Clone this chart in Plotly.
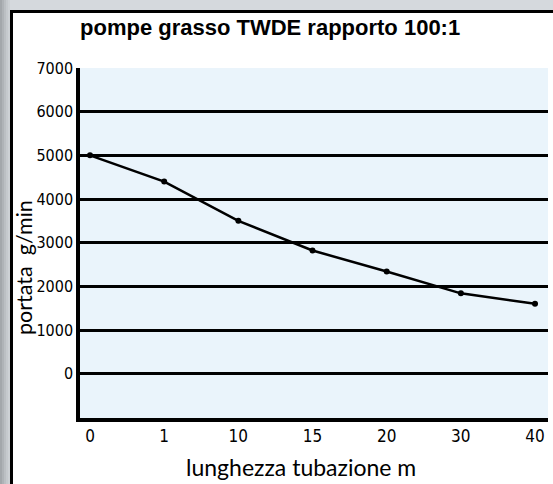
import plotly.graph_objects as go

# ---- data ----
lengths = ["0", "1", "10", "15", "20", "30", "40"]          # lunghezza tubazione m
flow = [5000, 4400, 3500, 2820, 2340, 1840, 1600]            # portata g/min
y_ticks = [0, 1000, 2000, 3000, 4000, 5000, 6000, 7000]

W, H = 553, 484
L, R, T, B = 80, 5, 68, 66
PW, PH = W - L - R, H - T - B


def px(x):
    return (x - L) / PW


def py(y):
    return (H - B - y) / PH


TICK_FONT = "Liberation Sans Narrow, DejaVu Sans Condensed, Arial Narrow, sans-serif"
TEXT_FONT = "Lato, Liberation Sans, Arial, sans-serif"

fig = go.Figure()
fig.add_trace(go.Scatter(
    x=list(range(len(lengths))), y=flow, mode="lines+markers",
    line=dict(color="black", width=2.5),
    marker=dict(color="black", size=6),
    showlegend=False, hoverinfo="skip", cliponaxis=False,
))

shapes = []
# gray frame (left gradient + top strip)
left_cols = ["#a3a7ab", "#afb3b7", "#bbbfc3", "#c5c9cd", "#cdd1d5"]
for i, c in enumerate(left_cols):
    shapes.append(dict(type="rect", xref="paper", yref="paper",
                       x0=px(i * 2), x1=px(i * 2 + 2), y0=py(H), y1=py(0),
                       fillcolor=c, line=dict(width=0), layer="below"))
shapes.append(dict(type="rect", xref="paper", yref="paper",
                   x0=px(10), x1=px(W), y0=py(10), y1=py(0),
                   fillcolor="#d5d9dd", line=dict(width=0), layer="below"))
# white strip at the right edge of the panel
shapes.append(dict(type="rect", xref="paper", yref="paper",
                   x0=px(549.5), x1=px(W), y0=py(H), y1=py(13),
                   fillcolor="white", line=dict(width=0), layer="above"))
# black border of white panel
shapes.append(dict(type="line", xref="paper", yref="paper",
                   x0=px(11.5), x1=px(11.5), y0=py(H), y1=py(10),
                   line=dict(color="black", width=3)))
shapes.append(dict(type="line", xref="paper", yref="paper",
                   x0=px(10), x1=px(W), y0=py(11.5), y1=py(11.5),
                   line=dict(color="black", width=3)))

annotations = [
    dict(text="<b>pompe grasso TWDE rapporto 100:1</b>", xref="paper", yref="paper",
         x=px(270), y=py(28), xanchor="center", yanchor="middle", showarrow=False,
         font=dict(family="Liberation Sans, Arial, sans-serif", size=22, color="black")),
    dict(text="lunghezza tubazione m", xref="paper", yref="paper",
         x=px(301), y=py(467), xanchor="center", yanchor="middle", showarrow=False,
         font=dict(family=TEXT_FONT, size=23, color="black")),
    dict(text="portata  g/min", xref="paper", yref="paper", textangle=-90,
         x=px(24), y=py(268), xanchor="center", yanchor="middle", showarrow=False,
         font=dict(family=TEXT_FONT, size=21.5, color="black")),
]

fig.update_layout(
    width=W, height=H,
    margin=dict(l=L, r=R, t=T, b=B, pad=0, autoexpand=False),
    paper_bgcolor="white", plot_bgcolor="#eaf4fb",
    shapes=shapes, annotations=annotations,
    xaxis=dict(range=[-0.135, 6.175], tickmode="array",
               tickvals=list(range(len(lengths))), ticktext=lengths,
               showgrid=False, zeroline=False, showline=True,
               linecolor="black", linewidth=3.5, ticks="",
               ticklabelstandoff=0, automargin=False,
               tickfont=dict(family=TICK_FONT, size=17, color="black")),
    yaxis=dict(range=[-1015, 7000], tickmode="array", tickvals=y_ticks,
               showgrid=True, gridcolor="black", gridwidth=2.5,
               zeroline=False, showline=True, linecolor="black", linewidth=3.5,
               ticks="", ticklabelstandoff=0, automargin=False,
               tickfont=dict(family=TICK_FONT, size=16, color="black")),
)

fig.write_html(
    "out.html",
    config={"responsive": False, "displayModeBar": False},
    post_script=("document.documentElement.style.overflow='hidden';"
                 "document.body.style.margin='0';document.body.style.overflow='hidden';"),
)
